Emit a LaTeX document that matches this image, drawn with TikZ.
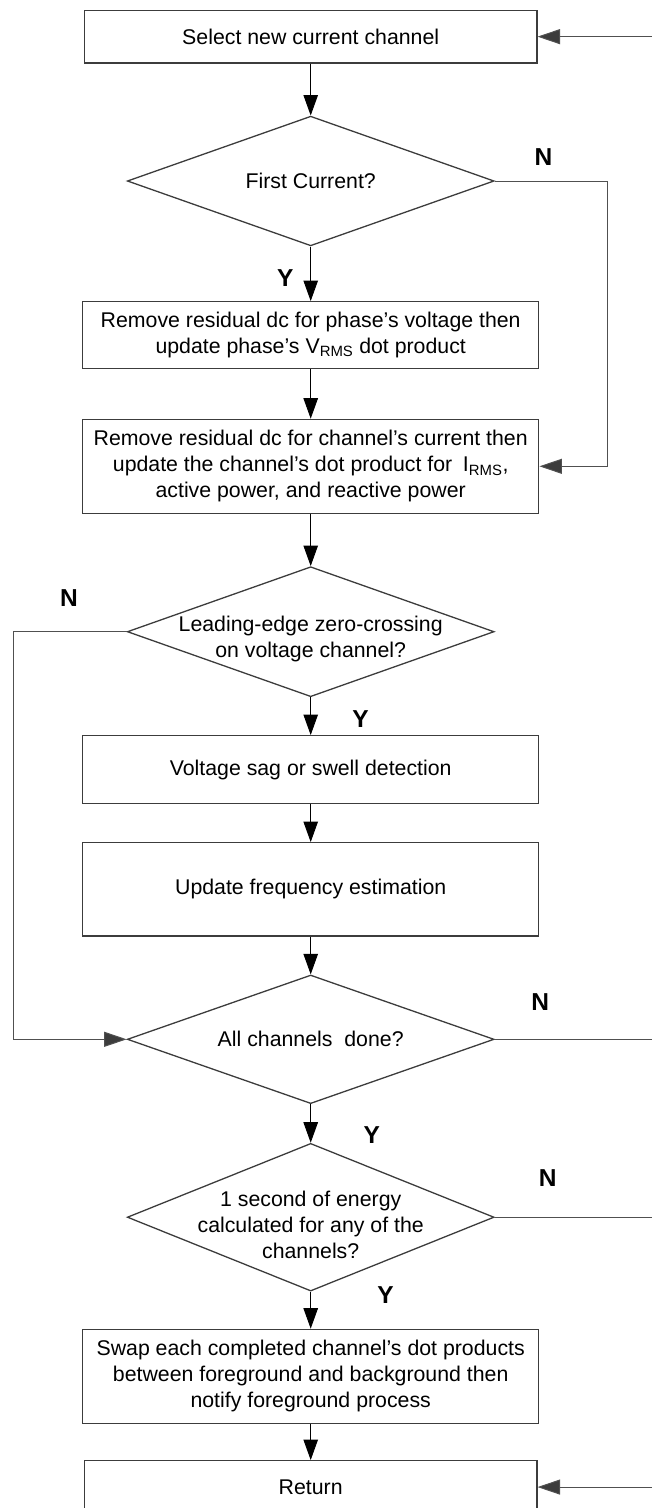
\documentclass[tikz,border=0pt]{standalone}
\usepackage{fontspec}
\setmainfont{Liberation Sans}
\usetikzlibrary{shapes.geometric,arrows.meta}
\definecolor{boxgray}{HTML}{3C3C3C}
\definecolor{linegray}{HTML}{505050}
\begin{document}
\begin{tikzpicture}[x=1pt,y=-1pt,
  font=\fontsize{21.3}{26}\selectfont,
  procbox/.style={draw=boxgray,line width=1.3pt,inner sep=0pt,align=center,minimum width=456.2pt},
  decbox/.style={draw=boxgray,line width=1.3pt,shape=diamond,inner sep=0pt,minimum width=366.8pt},
  dtext/.style={align=center,inner sep=0pt},
  yn/.style={font=\fontsize{24.5}{28}\selectfont\bfseries,inner sep=0pt},
  flow/.style={draw=black,line width=0.9pt,-{Triangle[length=20.5pt,width=14.5pt]}},
  back/.style={draw=linegray,line width=1pt,-{Triangle[length=22.5pt,width=15pt,fill=boxgray]}},
  plain/.style={draw=linegray,line width=1pt}
]
\useasboundingbox (0,0) rectangle (652,1508);
\clip (0,0) rectangle (652,1508);

% process boxes
\node[procbox,minimum width=452.4pt,minimum height=52.7pt] (b1) at (310.7,36.65) {Select new current channel};
\node[procbox,minimum height=67pt] (b2) at (310.7,335.2) {Remove residual dc for phase’s voltage then\\update phase’s V\textsubscript{RMS} dot product};
\node[procbox,minimum height=94pt] (b3) at (310.7,466.3) {Remove residual dc for channel’s current then\\update the channel’s dot product for\enspace I\textsubscript{RMS},\\active power, and reactive power};
\node[procbox,minimum height=67.6pt] (b4) at (310.7,769.5) {Voltage sag or swell detection};
\node[procbox,minimum height=93.3pt] (b5) at (310.7,889.35) {Update frequency estimation};
\node[procbox,minimum height=94pt] (b6) at (310.7,1376.3) {Swap each completed channel’s dot products\\between foreground and background then\\notify foreground process};
\node[procbox,minimum width=452.4pt,minimum height=52.7pt] (b7) at (310.7,1487.05) {Return};

% decisions
\node[decbox,minimum height=129.7pt] (d1) at (310.7,181) {};
\node[dtext] (t1) at (310.7,181) {First Current?};
\node[decbox,minimum height=130pt] (d2) at (310.7,631.7) {};
\node[dtext] (t2) at (310.7,639) {Leading-edge zero-crossing\\on voltage channel?};
\node[decbox,minimum height=128.6pt] (d3) at (310.7,1039.3) {};
\node[dtext] (t3) at (310.7,1039.3) {All channels\ \ done?};
\node[decbox,minimum height=147.7pt] (d4) at (310.7,1217.2) {};
\node[dtext] (t4) at (310.7,1225) {1 second of energy\\calculated for any of the\\channels?};

% Y / N labels
\node[yn] (n1) at (543.5,157.5) {N};
\node[yn] (y1) at (285.2,278.3) {Y};
\node[yn] (n2) at (69,598.3) {N};
\node[yn] (y2) at (360.5,719.2) {Y};
\node[yn] (n3) at (540.1,1002.4) {N};
\node[yn] (y3) at (371.7,1135) {Y};
\node[yn] (n4) at (547.6,1178.3) {N};
\node[yn] (y4) at (385.5,1295) {Y};

% main flow
\draw[flow] (b1.south) -- (d1.north);
\draw[flow] (d1.south) -- (b2.north);
\draw[flow] (b2.south) -- (b3.north);
\draw[flow] (b3.south) -- (d2.north);
\draw[flow] (d2.south) -- (b4.north);
\draw[flow] (b4.south) -- (b5.north);
\draw[flow] (b5.south) -- (d3.north);
\draw[flow] (d3.south) -- (d4.north);
\draw[flow] (d4.south) -- (b6.north);
\draw[flow] (b6.south) -- (b7.north);

% side connectors
\coordinate (r1) at (607.5,181);
\draw[back] (d1.east) -- (r1) |- (b3.east);
\coordinate (l2) at (13.7,631.7);
\draw[back] (d2.west) -- (l2) |- (d3.west);
\coordinate (e3) at (653,1039.3);
\draw[plain] (d3.east) -- (e3);
\coordinate (e4) at (653,1217.2);
\draw[plain] (d4.east) -- (e4);
\coordinate (e1) at (653,36.65);
\draw[back] (e1) -- (b1.east);
\coordinate (e7) at (653,1487.05);
\draw[back] (e7) -- (b7.east);
\end{tikzpicture}
\end{document}
